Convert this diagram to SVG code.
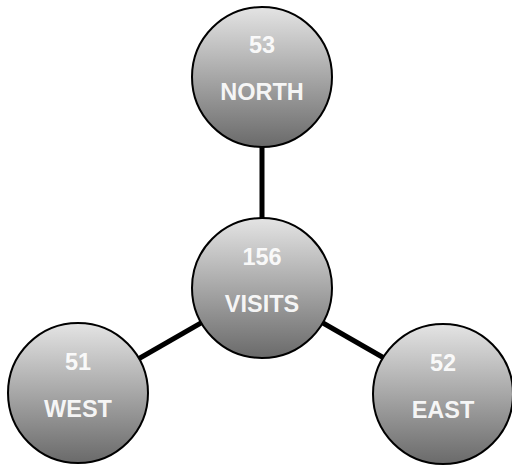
<svg xmlns="http://www.w3.org/2000/svg" width="512" height="468" viewBox="0 0 512 468">
<defs>
<linearGradient id="g" x1="0" y1="0" x2="0" y2="1">
<stop offset="0" stop-color="#e4e4e4"/>
<stop offset="1" stop-color="#6a6a6a"/>
</linearGradient>
<style>
.n circle{fill:url(#g);stroke:#000;stroke-width:2}
.n text{font-family:"Liberation Sans",Arial,sans-serif;font-weight:bold;font-size:23.5px;fill:#fff;fill-opacity:0.92;text-anchor:middle}
.c line{stroke:#000;stroke-width:5}
</style>
</defs>
<rect width="512" height="468" fill="#fff"/>
<g id="connectors" class="c">
<line x1="262" y1="288" x2="262" y2="77"/>
<line x1="262" y1="288" x2="79" y2="393"/>
<line x1="262" y1="288" x2="445" y2="393"/>
</g>
<g id="north" class="n"><circle cx="262" cy="77" r="70"/><text x="262" y="53">53</text><text x="262" y="100">NORTH</text></g>
<g id="visits" class="n"><circle cx="262" cy="288" r="70"/><text x="262" y="265">156</text><text x="262" y="312">VISITS</text></g>
<g id="west" class="n"><circle cx="78" cy="393" r="70"/><text x="78" y="370">51</text><text x="78" y="417">WEST</text></g>
<g id="east" class="n"><circle cx="443" cy="394" r="70"/><text x="443" y="371">52</text><text x="443" y="418">EAST</text></g>
</svg>
